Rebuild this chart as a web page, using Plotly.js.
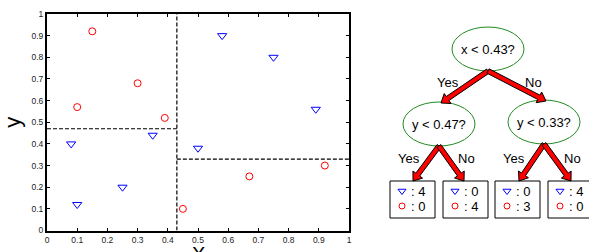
<!DOCTYPE html>
<html>
<head>
<meta charset="utf-8">
<script src="https://cdn.plot.ly/plotly-3.0.1.min.js"></script>
<style>html,body{margin:0;padding:0;background:#fff;}#chart{width:589px;height:252px;}</style>
</head>
<body>
<div id="chart"></div>
<script>
// ---- data ----
var triX = [0.08, 0.10, 0.25, 0.35, 0.50, 0.58, 0.75, 0.89];
var triY = [0.40, 0.12, 0.20, 0.44, 0.38, 0.90, 0.80, 0.56];
var circX = [0.15, 0.30, 0.10, 0.39, 0.45, 0.67, 0.92];
var circY = [0.92, 0.68, 0.57, 0.52, 0.10, 0.25, 0.30];
var splitX = 0.43;
var splitYLeft = 0.47;
var splitYRight = 0.33;
var xTitle = "X";
var yTitle = "y";
var nodeLabels = ["x < 0.43?", "y < 0.47?", "y < 0.33?"];
var branchLabels = ["Yes", "No"];
var leafTriCounts = [4, 0, 0, 4];
var leafCircCounts = [0, 4, 3, 0];

// ---- tree layout (pixel coordinates in the right panel) ----
var W = 589, H = 252, X0 = 360;
var nodePos = [[488, 49], [439, 124], [544, 122]];
var nodeR = [36, 22];
var leafX = [390, 443, 495, 548];
var leafTop = 181, leafW = 45, leafH = 37;
var edges = [
  [[488, 71], [441, 103]], [[488, 71], [546, 101]],
  [[439, 146], [413, 181]], [[439, 146], [464, 181]],
  [[544, 144], [519, 181]], [[544, 144], [571, 181]]
];
var edgeLabelPos = [[448, 82], [533, 82], [409, 158], [466, 158], [514, 158], [572, 158]];

function arrowPath(s, e) {
  var dx = e[0] - s[0], dy = e[1] - s[1];
  var len = Math.sqrt(dx * dx + dy * dy);
  var ux = dx / len, uy = dy / len, nx = -uy, ny = ux;
  var w = 2.4, h = 6, L = 8;
  var bx = e[0] - ux * L, by = e[1] - uy * L;
  var pts = [
    [s[0] + nx * w, s[1] + ny * w], [bx + nx * w, by + ny * w], [bx + nx * h, by + ny * h],
    e, [bx - nx * h, by - ny * h], [bx - nx * w, by - ny * w], [s[0] - nx * w, s[1] - ny * w]
  ];
  return "M" + pts.map(function (p) { return p[0].toFixed(2) + "," + p[1].toFixed(2); }).join(" L") + " Z";
}

var dashLine = {color: "#000", width: 1.2, dash: "4px,2px"};
var traces = [
  {x: [splitX, splitX], y: [0, 1], mode: "lines", line: dashLine, hoverinfo: "skip", showlegend: false},
  {x: [0, splitX], y: [splitYLeft, splitYLeft], mode: "lines", line: dashLine, hoverinfo: "skip", showlegend: false},
  {x: [splitX, 1], y: [splitYRight, splitYRight], mode: "lines", line: dashLine, hoverinfo: "skip", showlegend: false},
  {x: triX, y: triY, mode: "markers", marker: {symbol: "triangle-down-open", size: 8, color: "#0000ff", line: {width: 1}}, showlegend: false},
  {x: circX, y: circY, mode: "markers", marker: {symbol: "circle-open", size: 7, color: "#ff0000", line: {width: 1}}, showlegend: false}
];

var shapes = [];
var annotations = [];
var fam = "Liberation Sans, Arial, sans-serif";
var font13 = {family: fam, size: 13, color: "#000"};

// leaves
var lTriX = [], lTriY = [], lCircX = [], lCircY = [];
leafX.forEach(function (lx, i) {
  shapes.push({type: "rect", xref: "x2", yref: "y2", x0: lx, x1: lx + leafW, y0: leafTop, y1: leafTop + leafH,
    line: {color: "#000", width: 1}, fillcolor: "rgba(0,0,0,0)"});
  lTriX.push(lx + 12); lTriY.push(leafTop + 10);
  lCircX.push(lx + 12); lCircY.push(leafTop + 25);
  annotations.push({xref: "x2", yref: "y2", x: lx + 19, y: leafTop + 10, text: ": " + leafTriCounts[i], showarrow: false, xanchor: "left", yanchor: "middle", font: font13});
  annotations.push({xref: "x2", yref: "y2", x: lx + 19, y: leafTop + 25, text: ": " + leafCircCounts[i], showarrow: false, xanchor: "left", yanchor: "middle", font: font13});
});
traces.push({x: lTriX, y: lTriY, xaxis: "x2", yaxis: "y2", mode: "markers", marker: {symbol: "triangle-down-open", size: 7, color: "#0000ff", line: {width: 1}}, hoverinfo: "skip", showlegend: false});
traces.push({x: lCircX, y: lCircY, xaxis: "x2", yaxis: "y2", mode: "markers", marker: {symbol: "circle-open", size: 6, color: "#ff0000", line: {width: 1}}, hoverinfo: "skip", showlegend: false});

// decision nodes
nodePos.forEach(function (p, i) {
  shapes.push({type: "circle", xref: "x2", yref: "y2", x0: p[0] - nodeR[0], x1: p[0] + nodeR[0], y0: p[1] - nodeR[1], y1: p[1] + nodeR[1],
    line: {color: "#228b22", width: 1}, fillcolor: "rgba(0,0,0,0)"});
  annotations.push({xref: "x2", yref: "y2", x: p[0], y: p[1], text: nodeLabels[i], showarrow: false, font: font13});
});

// edges
edges.forEach(function (e, i) {
  shapes.push({type: "path", xref: "x2", yref: "y2", path: arrowPath(e[0], e[1]), fillcolor: "#ff0000", line: {color: "#000", width: 1}});
  annotations.push({xref: "x2", yref: "y2", x: edgeLabelPos[i][0], y: edgeLabelPos[i][1], text: branchLabels[i % 2], showarrow: false, font: font13});
});

// x axis title (below tick labels, partly cut by the canvas edge as in the reference)
annotations.push({xref: "paper", yref: "paper", x: 198 / W, y: (H - 241) / H, text: xTitle, showarrow: false, xanchor: "center", yanchor: "top",
  font: {family: fam, size: 20, color: "#000"}});

var axCommon = {
  range: [0, 1], dtick: 0.1, tick0: 0, showgrid: false, zeroline: false,
  showline: true, mirror: "ticks", linecolor: "#000", linewidth: 2,
  ticks: "inside", ticklen: 3, tickwidth: 1, tickcolor: "#000",
  tickfont: {family: fam, size: 8.5, color: "#222"}
};

var layout = {
  width: W, height: H,
  margin: {l: 0, r: 0, t: 0, b: 0},
  paper_bgcolor: "#fff", plot_bgcolor: "#fff",
  showlegend: false,
  xaxis: Object.assign({}, axCommon, {domain: [47 / W, 349 / W], anchor: "y"}),
  yaxis: Object.assign({}, axCommon, {domain: [(H - 230.5) / H, (H - 14) / H], anchor: "x",
    title: {text: yTitle, font: {family: fam, size: 22, color: "#000"}, standoff: 6}}),
  xaxis2: {domain: [X0 / W, 1], range: [X0, W], visible: false, fixedrange: true, anchor: "y2"},
  yaxis2: {domain: [0, 1], range: [H, 0], visible: false, fixedrange: true, anchor: "x2"},
  shapes: shapes,
  annotations: annotations
};

Plotly.newPlot("chart", traces, layout, {displayModeBar: false, staticPlot: true});
</script>
</body>
</html>
